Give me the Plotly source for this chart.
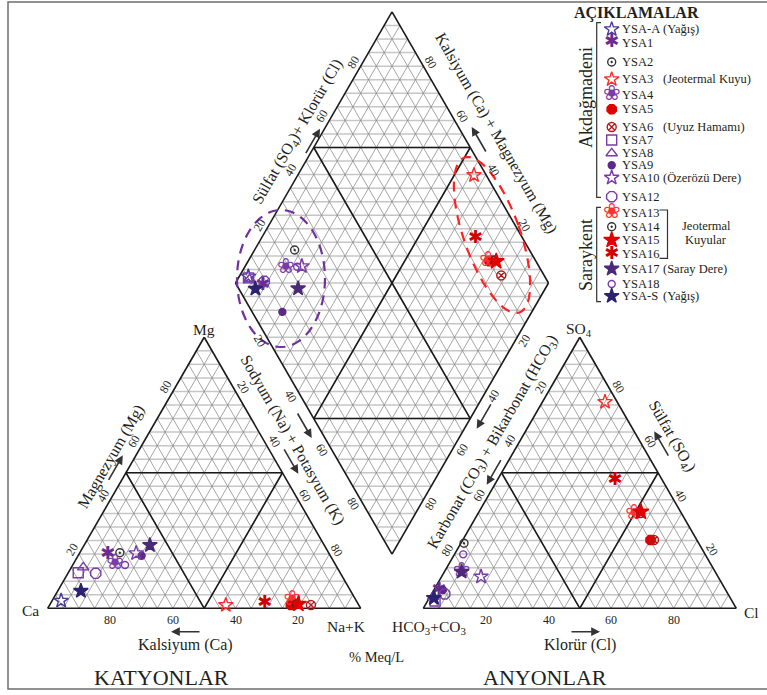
import math
import plotly.graph_objects as go

# ---------------- data: % meq/L ----------------
samples = ["YSA-A", "YSA1", "YSA2", "YSA3", "YSA4", "YSA5", "YSA6", "YSA7", "YSA8", "YSA9",
           "YSA10", "YSA12", "YSA13", "YSA14", "YSA15", "YSA16", "YSA17", "YSA18", "YSA-S"]
ca = [94.3, 70.8, 66.7, 42.5, 70.2, 21.7, 15.3, 83.7, 81.1, 60.3,
      61.6, 78.2, 20.3, 19.8, 19.1, 29.7, 55.7, 67.3, 86.2]
mg = [2.8, 20.0, 20.5, 1.2, 16.6, 1.2, 1.2, 13.1, 15.1, 19.4,
      20.3, 12.9, 3.1, 1.6, 1.6, 1.8, 23.3, 16.0, 6.4]
nak = [2.9, 9.2, 12.8, 56.3, 13.2, 77.1, 83.5, 3.2, 3.8, 20.3,
       18.1, 8.9, 76.6, 78.6, 79.3, 68.5, 21.0, 16.7, 7.4]
hco3 = [94.7, 91.8, 75.0, 3.9, 81.0, 14.8, 13.7, 94.9, 94.8, 90.35,
        75.7, 90.5, 15.2, 13.0, 12.7, 15.1, 81.0, 77.3, 94.7]
so4 = [3.8, 6.4, 24.0, 76.1, 13.5, 25.2, 25.2, 2.7, 4.2, 6.75,
       11.7, 5.3, 35.0, 35.0, 35.6, 47.3, 13.5, 19.9, 3.8]
cl = [1.5, 1.8, 1.0, 20.0, 5.5, 60.0, 61.1, 2.4, 1.0, 2.9,
      12.6, 4.2, 49.8, 52.0, 51.7, 37.6, 5.5, 2.8, 1.5]
notes = {"YSA-A": "(Yağış)", "YSA3": "(Jeotermal Kuyu)", "YSA6": "(Uyuz Hamamı)",
         "YSA10": "(Özerözü Dere)", "YSA17": "(Saray Dere)", "YSA-S": "(Yağış)"}
tick_values = [20, 40, 60, 80]

# ---------------- styles ----------------
PURPLE = "#7a3aa8"
styles = {
    "YSA-A": dict(kind="m", symbol="star-open", color="#4a3a9c", size=11),
    "YSA1": dict(kind="t", glyph="✱", color="#6a2c91", size=18),
    "YSA2": dict(kind="m", symbol="circle-open-dot", color="#333333", size=8),
    "YSA3": dict(kind="m", symbol="star-open", color="#ff2a2a", size=11),
    "YSA4": dict(kind="t", glyph="❀", color=PURPLE, size=21),
    "YSA5": dict(kind="m", symbol="octagon", color="#e00000", size=10),
    "YSA6": dict(kind="m", symbol="circle-x-open", color="#b01c1c", size=9),
    "YSA7": dict(kind="m", symbol="square-open", color=PURPLE, size=10),
    "YSA8": dict(kind="m", symbol="triangle-up-open", color=PURPLE, size=10),
    "YSA9": dict(kind="m", symbol="circle", color="#5b2a86", size=7),
    "YSA10": dict(kind="m", symbol="star-open", color=PURPLE, size=11),
    "YSA12": dict(kind="m", symbol="octagon-open", color=PURPLE, size=11),
    "YSA13": dict(kind="t", glyph="❀", color="#ff3030", size=21),
    "YSA14": dict(kind="m", symbol="circle-open-dot", color="#333333", size=8),
    "YSA15": dict(kind="m", symbol="star", color="#e00000", size=12),
    "YSA16": dict(kind="t", glyph="✱", color="#d00000", size=18),
    "YSA17": dict(kind="m", symbol="star", color="#4b2a7a", size=11),
    "YSA18": dict(kind="m", symbol="circle-open", color=PURPLE, size=7),
    "YSA-S": dict(kind="m", symbol="star", color="#2b2270", size=11),
}

SERIF = "Liberation Serif, Times New Roman, serif"
TXT = "#231f20"
W, HGT = 767, 695
S = 313.0            # pixels per unit side
OX, OY = 47.7, 608.3  # pixel position of the Ca vertex
H = math.sqrt(3) / 2
GAP = 0.2


def X(px):
    return (px - OX) / S


def Y(py):
    return (OY - py) / S


# ---------------- geometry ----------------
AOFF = 1 + GAP                      # anion triangle offset
Bx, By = 1.0 + GAP / 2, GAP / 2 * math.sqrt(3)   # diamond bottom vertex
L = (Bx - 0.5, By + H)
R = (Bx + 0.5, By + H)
T = (Bx, By + 2 * H)


def cation_xy(c, m, n):
    s = c + m + n
    m, n = m / s, n / s
    return n + m / 2, m * H


def anion_xy(h, s4, c):
    s = h + s4 + c
    s4, c = s4 / s, c / s
    return AOFF + c + s4 / 2, s4 * H


def diamond_xy(c, m, n, h, s4, cl_):
    cm = (c + m) / (c + m + n)
    sc = (s4 + cl_) / (h + s4 + cl_)
    return Bx + 0.5 * (sc - cm), By + H * (sc + cm)


fig = go.Figure()

# grid
hx, hy, dx_, dy_ = [], [], [], []


def seg(lx, ly, p, q):
    lx += [p[0], q[0], None]
    ly += [p[1], q[1], None]


for ox in (0.0, AOFF):
    for k in range(1, 20):
        t = k / 20
        seg(hx, hy, (ox + t / 2, t * H), (ox + 1 - t / 2, t * H))
        seg(dx_, dy_, (ox + t, 0), (ox + t + (1 - t) / 2, (1 - t) * H))
        seg(dx_, dy_, (ox + t, 0), (ox + t / 2, t * H))
for k in range(1, 20):
    t = k / 20
    p = (Bx + 0.5 * t, By + H * t)
    seg(dx_, dy_, p, (p[0] - 0.5, p[1] + H))
    p = (Bx - 0.5 * t, By + H * t)
    seg(dx_, dy_, p, (p[0] + 0.5, p[1] + H))
for j in range(1, 40):
    yy = By + j * H / 20
    hw = min(j, 40 - j) / 40
    seg(hx, hy, (Bx - hw, yy), (Bx + hw, yy))

fig.add_trace(go.Scatter(x=hx, y=hy, mode="lines", line=dict(color="#c6c6c6", width=1.5),
                         hoverinfo="skip", showlegend=False))
fig.add_trace(go.Scatter(x=dx_, y=dy_, mode="lines", line=dict(color="#888888", width=0.75),
                         hoverinfo="skip", showlegend=False))

# outlines and subdivisions
ox_, oy_ = [], []
for ox in (0.0, AOFF):
    for p, q in [((ox, 0), (ox + 1, 0)), ((ox + 1, 0), (ox + 0.5, H)), ((ox + 0.5, H), (ox, 0)),
                 ((ox + 0.25, H / 2), (ox + 0.75, H / 2)),
                 ((ox + 0.25, H / 2), (ox + 0.5, 0)), ((ox + 0.5, 0), (ox + 0.75, H / 2))]:
        seg(ox_, oy_, p, q)
C = (Bx, By + H)
ul = ((L[0] + T[0]) / 2, (L[1] + T[1]) / 2)
ur = ((R[0] + T[0]) / 2, (R[1] + T[1]) / 2)
ll = ((L[0] + Bx) / 2, (L[1] + By) / 2)
lr = ((R[0] + Bx) / 2, (R[1] + By) / 2)
for p, q in [((Bx, By), R), (R, T), (T, L), (L, (Bx, By)),
             (ul, ur), (ul, C), (C, ur), (ll, lr), (ll, C), (C, lr)]:
    seg(ox_, oy_, p, q)
fig.add_trace(go.Scatter(x=ox_, y=oy_, mode="lines", line=dict(color="#1a1a1a", width=1.6),
                         hoverinfo="skip", showlegend=False))


def add_points(xs, ys, st):
    if st["kind"] == "m":
        fig.add_trace(go.Scatter(
            x=xs, y=ys, mode="markers", hoverinfo="skip", showlegend=False,
            marker=dict(symbol=st["symbol"], size=st["size"], color=st["color"],
                        line=dict(color=st["color"], width=1.4))))
    else:
        fig.add_trace(go.Scatter(
            x=xs, y=ys, mode="text", text=[st["glyph"]] * len(xs), hoverinfo="skip",
            showlegend=False, textposition="middle center",
            textfont=dict(family="DejaVu Sans", size=st["size"], color=st["color"])))


# data points
for i, name in enumerate(samples):
    p1 = cation_xy(ca[i], mg[i], nak[i])
    p2 = anion_xy(hco3[i], so4[i], cl[i])
    p3 = diamond_xy(ca[i], mg[i], nak[i], hco3[i], so4[i], cl[i])
    add_points([p1[0], p2[0], p3[0]], [p1[1], p2[1], p3[1]], styles[name])

# ---------------- annotations ----------------
ann = []


def txt(px, py, s, size=15, angle=0, xanchor="center", bold=False):
    if bold:
        s = "<b>" + s + "</b>"
    ann.append(dict(x=X(px), y=Y(py), text=s, showarrow=False, textangle=angle,
                    xanchor=xanchor, yanchor="middle",
                    font=dict(family=SERIF, size=size, color=TXT)))


def dtxt(x, y, s, size=12, angle=0):
    ann.append(dict(x=x, y=y, text=s, showarrow=False, textangle=angle,
                    xanchor="center", yanchor="middle",
                    font=dict(family=SERIF, size=size, color=TXT)))


def arrow(mx, my, ddx, ddy, ln=30):
    n = math.hypot(ddx, ddy)
    ddx, ddy = ddx / n, ddy / n
    hxp, hyp = mx + ddx * ln / 2, my + ddy * ln / 2
    ann.append(dict(x=X(hxp), y=Y(hyp), ax=-ddx * ln, ay=-ddy * ln, text="",
                    showarrow=True, arrowhead=2, arrowsize=1.1, arrowwidth=1.6,
                    arrowcolor="#333333"))


def edge_ticks(p0, p1, labels, nx, ny, angle, dist=8.5):
    # labels placed at fraction v/100 from p0 towards p1, offset by screen normal
    for v, lab in labels:
        f = v / 100
        x = p0[0] + (p1[0] - p0[0]) * f + nx * dist / S
        y = p0[1] + (p1[1] - p0[1]) * f - ny * dist / S
        dtxt(x, y, str(lab), 12, angle)


tv = [(v, v) for v in tick_values]
# cation triangle
edge_ticks((0, 0), (0.5, H), tv, -0.866, -0.5, -60)             # Mg
edge_ticks((0.5, H), (1, 0), tv, 0.866, -0.5, 60)               # Na+K
for v in tick_values:
    dtxt(1 - v / 100, Y(620), str(v), 12)                        # Ca
# anion triangle
edge_ticks((AOFF + 0.5, H), (AOFF, 0), tv, -0.866, -0.5, -60)   # HCO3+CO3
edge_ticks((AOFF + 1, 0), (AOFF + 0.5, H), tv, 0.866, -0.5, 60)  # SO4
for v in tick_values:
    dtxt(AOFF + v / 100, Y(620), str(v), 12)                     # Cl
# diamond
edge_ticks(L, T, tv, -0.866, -0.5, -60)                          # SO4+Cl
edge_ticks(R, T, tv, 0.866, -0.5, 60)                            # Ca+Mg
edge_ticks(L, (Bx, By), tv, -0.866, 0.5, 60)                     # Na+K
edge_ticks(R, (Bx, By), tv, 0.866, 0.5, -60)                     # CO3+HCO3

# corner labels
txt(30, 610, "Ca", 15.5)
txt(204, 329, "Mg", 15.5)
txt(346, 626, "Na+K", 15.5)
txt(579, 329, "SO<sub>4</sub>", 15.5)
txt(751, 612, "Cl", 15.5)
txt(429, 627, "HCO<sub>3</sub>+CO<sub>3</sub>", 15.5)

# axis titles
TS = 16
txt(111, 457, "Magnezyum (Mg)", TS, -60)
arrow(115.3, 468.3, 0.5, -0.866)
txt(292.5, 440, "Sodyum (Na) + Potasyum (K)", TS, 60)
arrow(304.2, 425, 0.5, 0.866)
arrow(290.8, 460.8, 0.5, 0.866)
txt(297.5, 132.5, "Sülfat (SO<sub>4</sub>)+ Klorür (Cl)", TS, -60)
arrow(312.5, 141.7, 0.5, -0.866)
txt(496, 133, "Kalsiyum (Ca) + Magnezyum (Mg)", TS, 60)
arrow(479.2, 140, -0.5, -0.866)
txt(492.5, 442.5, "Karbonat (CO<sub>3</sub>) + Bikarbonat (HCO<sub>3</sub>)", TS, -60)
arrow(484.2, 415.8, -0.5, 0.866)
arrow(494.2, 471.7, -0.5, 0.866)
txt(671.7, 436.7, "Sülfat (SO<sub>4</sub>)", TS, 60)
arrow(661.7, 444.2, -0.5, -0.866)
txt(185.5, 645, "Kalsiyum (Ca)", TS)
arrow(186, 631.7, -1, 0)
txt(580, 645, "Klorür (Cl)", TS)
arrow(585, 631.7, 1, 0)
txt(376, 657, "% Meq/L", 14.5)
txt(161, 677, "KATYONLAR", 22)
txt(545, 677, "ANYONLAR", 22)

# ---------------- legend (drawn by hand) ----------------
LEG_ROW_Y = [29.3, 42.7, 62, 79.3, 94.7, 109.3, 127, 140, 153.3, 165.3, 177.7, 196.7,
             212.7, 226.7, 240, 254, 268.7, 284, 296]
LEG_MX, LEG_TX, LEG_NX = 611.7, 620, 661
txt(636, 13, "AÇIKLAMALAR", 16, bold=True)
for i, name in enumerate(samples):
    add_points([X(LEG_MX)], [Y(LEG_ROW_Y[i])], styles[name])
    txt(LEG_TX, LEG_ROW_Y[i], name, 12.5, xanchor="left")
    if name in notes:
        txt(LEG_NX, LEG_ROW_Y[i], notes[name], 12.5, xanchor="left")
txt(706, 225.5, "Jeotermal", 12.5)
txt(706, 240, "Kuyular", 12.5)
txt(586, 98, "Akdağmadeni", 18, -90)
txt(586, 255, "Saraykent", 18, -90)

shapes = []


def pline(pts, color="#333333", width=1.2, dash=None):
    path = "M " + " L ".join(f"{X(a):.5f},{Y(b):.5f}" for a, b in pts)
    shapes.append(dict(type="path", path=path, xref="x", yref="y",
                       line=dict(color=color, width=width, dash=dash)))


pline([(601, 22.7), (596.7, 22.7), (596.7, 197.3), (601, 197.3)])
pline([(601, 207.3), (596.7, 207.3), (596.7, 301.7), (601, 301.7)])
pline([(659.5, 210), (667.5, 210), (667.5, 258.3), (659.5, 258.3)])


def ellipse(cx, cy, a, b, mx, my, color):
    # a: semi-axis along (mx, my) screen direction, b: perpendicular
    nx_, ny_ = my, -mx
    pts = []
    for k in range(73):
        th = 2 * math.pi * k / 72
        pts.append((cx + a * math.sin(th) * mx + b * math.cos(th) * nx_,
                    cy + a * math.sin(th) * my + b * math.cos(th) * ny_))
    pline(pts, color=color, width=2.2, dash="10px,7px")


ellipse(281, 278.5, 68.5, 44, 0, 1, "#7030a0")
ellipse(492, 235, 82, 28, 0.335, 0.945, "#ff2020")

# frame
shapes.append(dict(type="rect", xref="x", yref="y", x0=X(8), x1=X(780), y0=Y(2), y1=Y(689),
                   line=dict(color="#6d6d6d", width=1.5), layer="below"))

fig.update_layout(
    width=W, height=HGT, autosize=False,
    margin=dict(l=0, r=0, t=0, b=0, pad=0),
    paper_bgcolor="white", plot_bgcolor="white",
    xaxis=dict(range=[X(0), X(W)], visible=False, fixedrange=True),
    yaxis=dict(range=[Y(HGT), Y(0)], visible=False, fixedrange=True),
    annotations=ann, shapes=shapes, showlegend=False,
)

fig.write_html("out.html", include_plotlyjs=True,
               config={"displayModeBar": False, "staticPlot": True},
               post_script="document.body.style.margin='0';document.body.style.overflow='hidden';")
